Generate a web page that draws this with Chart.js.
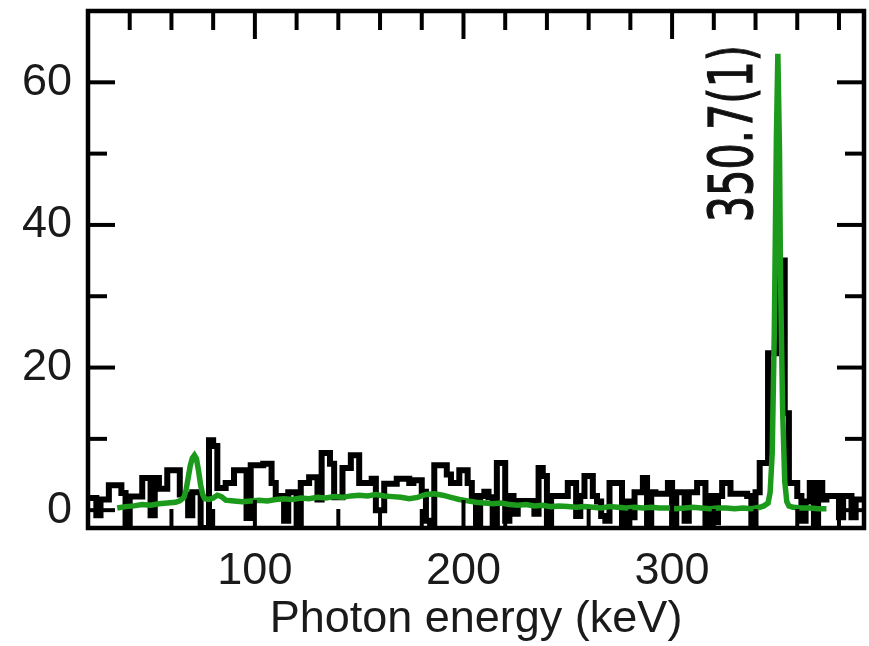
<!DOCTYPE html>
<html>
<head>
<meta charset="utf-8">
<script src="https://cdn.jsdelivr.net/npm/chart.js@4/dist/chart.umd.min.js"></script>
<style>
html,body{margin:0;padding:0;background:#fff;}
#wrap{width:869px;height:646px;}
</style>
</head>
<body>
<div id="wrap"><canvas id="c" width="869" height="646"></canvas></div>
<script>
// ---- data ----
const binStart = 20;   // keV, left edge of first bin
const binWidth = 2;    // keV
const counts = [
  1.7, 1.7, -0.7, 1.5, 1.5, 3.5, 3.5, 3.5, 2.4, -2.5,
  1.9, 1.9, 1.9, 4.5, 4.5, -0.7, 4.5, 3.0, 3.0, 5.6,
  5.6, 5.6, 2.2, 2.2, -0.7, 2.5, 2.5, -2.5, -2.5, 9.8,
  9.0, 3.1, 3.1, 3.8, 3.8, 5.6, 5.6, 5.6, -1.1, 6.3,
  6.3, 6.3, 6.5, 6.5, 3.8, 2.0, 2.0, -1.5, 2.5, 2.5,
  -2.5, 3.8, 3.8, 4.6, 4.6, 1.5, 8.0, 8.0, 6.5, 1.8,
  1.8, 5.9, 5.9, 7.7, 7.7, 3.8, 3.8, 3.8, 4.4, 0.0,
  0.0, 3.7, 3.7, 3.7, 4.4, 4.4, 4.4, 3.8, 4.2, 4.2,
  2.6, -1.5, -1.8, 6.3, 6.3, 6.3, 5.0, 3.8, 3.8, 5.6,
  5.6, 3.8, 2.0, -2.5, 2.0, 2.6, 1.8, -2.0, 6.6, 6.6,
  -1.5, 2.0, -0.5, 1.3, 1.3, 1.0, 1.3, -0.5, 5.9, 4.8,
  -2.5, 2.0, 2.0, 2.0, 2.0, 3.8, 3.8, -0.8, 2.0, 4.8,
  4.8, 2.0, 1.2, -0.8, -1.5, 3.8, 3.8, 3.8, -2.5, 1.2,
  -1.0, 2.5, 2.5, 4.5, -1.9, 2.5, 2.3, 2.3, 2.3, 3.8,
  -2.5, 2.5, 2.5, -1.5, 2.5, 2.5, 3.8, 3.8, -2.2, 2.0,
  -1.7, 2.0, 3.8, 3.8, 2.3, 2.3, 2.3, 2.3, 2.0, -1.9,
  2.5, 6.6, 6.6, 22, 22, 35, 35, 13.6, 3.8, 3.8,
  2.0, -1.5, 1.2, 3.8, -2.5, 3.8, 1.5, 2.0, 2.0, 2.0,
  -1.0, 2.0, 2.0, -1.0, 1.5, 1.5
];
const fitEnergy = [
  34, 38, 42, 46, 50, 54, 58, 62, 64, 66,
  67, 68, 69, 70, 71, 72, 73, 74, 75, 76,
  78, 80, 82, 84, 86, 90, 94, 98, 102, 106,
  110, 114, 118, 122, 126, 130, 134, 138, 142, 146,
  150, 154, 158, 162, 166, 170, 174, 178, 182, 186,
  190, 194, 198, 202, 206, 210, 214, 218, 222, 226,
  230, 234, 238, 242, 246, 250, 254, 258, 262, 266,
  270, 274, 278, 282, 286, 290, 294, 298, 302, 306,
  310, 314, 318, 322, 326, 330, 334, 338, 342, 344,
  346, 347, 348, 349, 350, 350.7, 351.5, 352, 353, 354,
  355, 356, 358, 362, 366, 370, 374
];
const fitCounts = [
  0.3, 0.5, 0.6, 0.8, 0.7, 0.9, 1.0, 1.1, 1.3, 1.8,
  2.8, 4.5, 6.2, 7.3, 7.7, 7.2, 5.5, 3.5, 2.2, 1.6,
  1.5, 1.7, 2.1, 1.9, 1.4, 1.3, 1.2, 1.3, 1.4, 1.3,
  1.5, 1.6, 1.5, 1.7, 1.6, 1.8, 1.7, 1.9, 1.8, 2.0,
  2.1, 2.0, 2.2, 2.0, 1.9, 1.8, 1.6, 1.8, 2.2, 2.3,
  2.1, 1.8, 1.5, 1.3, 1.1, 1.0, 0.9, 1.0, 0.8, 0.7,
  0.8, 0.6, 0.7, 0.5, 0.6, 0.5, 0.4, 0.5, 0.4, 0.3,
  0.5, 0.4, 0.3, 0.4, 0.3, 0.4, 0.3, 0.3, 0.2, 0.3,
  0.4, 0.3, 0.2, 0.3, 0.3, 0.2, 0.3, 0.2, 0.4, 0.6,
  1.0, 2.5, 8, 25, 52, 64, 50, 32, 14, 4,
  1.2, 0.6, 0.4, 0.3, 0.3, 0.2, 0.2
];
const xMajorTicks = [100, 200, 300];
const xMinorTicks = [40, 60, 80, 120, 140, 160, 180, 220, 240, 260, 280, 320, 340, 360, 380];
const yMajorTicks = [0, 20, 40, 60];
const yMinorTicks = [10, 30, 50];
const xLabel = 'Photon energy (keV)';
const peakLabel = '350.7(1)';
const peakLabelAt = { x: 338.5, y: 52.8 };

// ---- build ----
const histPoints = counts.map((c, i) => ({ x: binStart + i * binWidth, y: c }));
histPoints.push({ x: binStart + counts.length * binWidth, y: counts[counts.length - 1] });
const fitPoints = fitEnergy.map((e, i) => ({ x: e, y: fitCounts[i] }));

const framePlugin = {
  id: 'frame',
  afterDatasetsDraw(chart) {
    const { ctx, chartArea: a, scales: { x, y } } = chart;
    ctx.save();
    ctx.strokeStyle = '#000';
    ctx.lineCap = 'butt';
    ctx.lineWidth = 4;
    const seg = (x1, y1, x2, y2) => { ctx.beginPath(); ctx.moveTo(x1, y1); ctx.lineTo(x2, y2); ctx.stroke(); };
    xMajorTicks.forEach(v => { const p = x.getPixelForValue(v); seg(p, a.top, p, a.top + 28); seg(p, a.bottom, p, a.bottom - 28); });
    xMinorTicks.forEach(v => { const p = x.getPixelForValue(v); seg(p, a.top, p, a.top + 19); seg(p, a.bottom, p, a.bottom - 19); });
    yMajorTicks.forEach(v => { const p = y.getPixelForValue(v); seg(a.left, p, a.left + 27, p); seg(a.right, p, a.right - 27, p); });
    yMinorTicks.forEach(v => { const p = y.getPixelForValue(v); seg(a.left, p, a.left + 19, p); seg(a.right, p, a.right - 19, p); });
    ctx.lineJoin = 'miter';
    ctx.lineWidth = 4.5;
    ctx.strokeRect(a.left, a.top, a.right - a.left, a.bottom - a.top);
    // rotated peak label
    const lx = x.getPixelForValue(peakLabelAt.x), ly = y.getPixelForValue(peakLabelAt.y);
    ctx.translate(lx, ly);
    ctx.rotate(-Math.PI / 2);
    ctx.scale(0.69, 1);
    ctx.font = '60px "DejaVu Sans"';
    ctx.fillStyle = '#111';
    ctx.strokeStyle = '#111';
    ctx.lineWidth = 1.2;
    ctx.textAlign = 'center';
    ctx.textBaseline = 'alphabetic';
    ctx.fillText(peakLabel, 0, 0);
    ctx.strokeText(peakLabel, 0, 0);
    ctx.restore();
  }
};

new Chart(document.getElementById('c'), {
  type: 'line',
  data: {
    datasets: [
      { data: fitPoints, borderColor: '#1c9a1c', borderWidth: 5.5, pointRadius: 0, tension: 0, order: 0, clip: 0 },
      { data: histPoints, borderColor: '#000', borderWidth: 6, pointRadius: 0, stepped: true, borderJoinStyle: 'miter', order: 1, clip: 0 }
    ]
  },
  options: {
    responsive: false,
    animation: false,
    devicePixelRatio: 1,
    layout: { padding: { top: 11, right: 5, left: 0, bottom: 0 } },
    plugins: { legend: { display: false }, tooltip: { enabled: false } },
    scales: {
      x: {
        type: 'linear', min: 20, max: 392,
        grid: { display: false, drawTicks: false },
        border: { display: false },
        afterBuildTicks: s => { s.ticks = xMajorTicks.map(v => ({ value: v })); },
        afterFit: s => { s.height = 118; s.paddingLeft = 0; s.paddingRight = 0; },
        ticks: { font: { family: '"Liberation Sans", Arial, sans-serif', size: 45 }, color: '#1a1a1a', padding: 17, maxRotation: 0, autoSkip: false },
        title: { display: true, text: xLabel, font: { family: '"Liberation Sans", Arial, sans-serif', size: 45, lineHeight: 1 }, color: '#1a1a1a', padding: { top: 0, bottom: 4 } }
      },
      y: {
        type: 'linear', min: -2.5, max: 70,
        grid: { display: false, drawTicks: false },
        border: { display: false },
        afterBuildTicks: s => { s.ticks = yMajorTicks.map(v => ({ value: v })); },
        afterFit: s => { s.width = 88; s.paddingTop = 0; s.paddingBottom = 0; },
        ticks: { font: { family: '"Liberation Sans", Arial, sans-serif', size: 45 }, color: '#1a1a1a', padding: 16, autoSkip: false }
      }
    }
  },
  plugins: [framePlugin]
});
</script>
</body>
</html>
